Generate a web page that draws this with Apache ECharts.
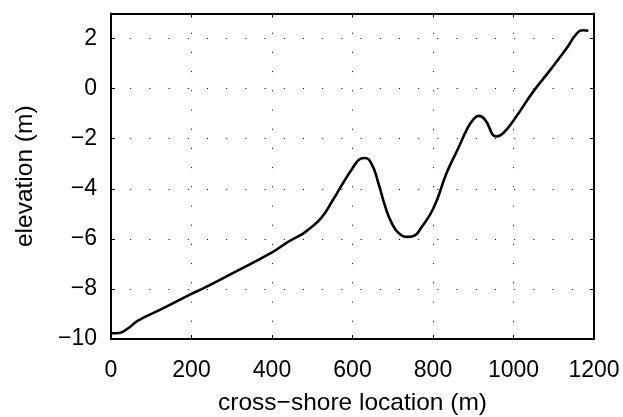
<!DOCTYPE html>
<html>
<head>
<meta charset="utf-8">
<script src="https://cdn.jsdelivr.net/npm/echarts@6/dist/echarts.min.js"></script>
<style>
  html, body { margin: 0; padding: 0; background: #fff; }
  #chart { width: 623px; height: 417px; }
</style>
</head>
<body>
<div id="chart"></div>
<script>
// Cross-shore beach profile: elevation against distance
const crossShore = [0, 20, 40, 68, 120, 200, 234, 300, 399, 440, 474, 486, 523, 552, 577, 598, 619, 631, 648, 664, 681, 697, 718, 739, 755, 768, 801, 834, 863, 884, 900, 914, 929, 958, 975, 1004, 1049, 1091, 1132, 1157, 1174, 1186];
const elevation = [-9.77, -9.76, -9.6, -9.26, -8.85, -8.20, -7.94, -7.39, -6.55, -6.12, -5.82, -5.69, -5.15, -4.43, -3.76, -3.23, -2.81, -2.77, -3.03, -3.76, -4.69, -5.35, -5.82, -5.92, -5.86, -5.62, -4.78, -3.36, -2.37, -1.64, -1.24, -1.09, -1.24, -1.91, -1.77, -1.18, -0.12, 0.74, 1.61, 2.20, 2.33, 2.31];
const xTicks = [0, 200, 400, 600, 800, 1000, 1200];
const yTicks = [-10, -8, -6, -4, -2, 0, 2];

const FONT = 'Liberation Sans, Arial, Helvetica, sans-serif';
const minus = v => String(v).replace('-', '\u2212');

const profile = crossShore.map((x, i) => [x, elevation[i]]);

const dotted = { color: '#000', width: 1, type: [1, 18.2] };
const frameLine = { show: true, onZero: false, lineStyle: { color: '#000', width: 2 } };
const inTick = { show: true, inside: true, length: 4, lineStyle: { color: '#000', width: 1 } };

const chart = echarts.init(document.getElementById('chart'), null, { renderer: 'canvas' });
chart.setOption({
  animation: false,
  backgroundColor: '#fff',
  grid: { left: 111, top: 13.5, right: 29, bottom: 78, containLabel: false, outerBoundsMode: 'none' },
  xAxis: [
    {
      type: 'value', min: xTicks[0], max: xTicks[xTicks.length - 1], interval: 200,
      axisLine: frameLine, axisTick: inTick,
      axisLabel: { color: '#000', fontFamily: FONT, fontSize: 23, margin: 20, formatter: minus },
      splitLine: { show: true, lineStyle: dotted },
      name: 'cross\u2212shore location (m)', nameLocation: 'middle', nameGap: 52,
      nameTextStyle: { color: '#000', fontFamily: FONT, fontSize: 24.5 }
    },
    {
      type: 'value', position: 'top', min: xTicks[0], max: xTicks[xTicks.length - 1], interval: 200,
      axisLine: frameLine, axisTick: inTick, axisLabel: { show: false }, splitLine: { show: false }
    }
  ],
  yAxis: [
    {
      type: 'value', min: yTicks[0], max: 3, interval: 2,
      axisLine: frameLine, axisTick: inTick,
      axisLabel: {
        color: '#000', fontFamily: FONT, fontSize: 23, margin: 14,
        formatter: v => (yTicks.indexOf(v) >= 0 ? minus(v) : '')
      },
      splitLine: { show: true, lineStyle: dotted },
      name: 'elevation (m)', nameLocation: 'middle', nameGap: 73,
      nameTextStyle: { color: '#000', fontFamily: FONT, fontSize: 24.5 }
    },
    {
      type: 'value', position: 'right', min: yTicks[0], max: 3, interval: 2,
      axisLine: frameLine, axisTick: inTick, axisLabel: { show: false }, splitLine: { show: false }
    }
  ],
  series: [{
    type: 'line',
    data: profile,
    showSymbol: false,
    smooth: 0.5,
    lineStyle: { color: '#000', width: 2.6 },
    z: 5
  }]
});
</script>
</body>
</html>
